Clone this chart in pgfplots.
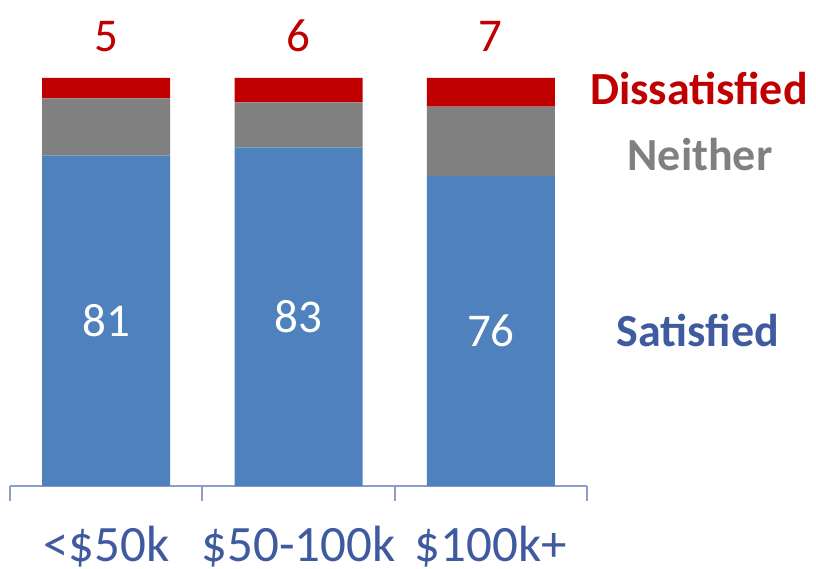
\documentclass[border=0pt]{standalone}
\usepackage{pgfplots}
\pgfplotsset{compat=1.18}
\usepackage{fontspec}
\setmainfont{Carlito}
\definecolor{sat}{HTML}{4F81BD}
\definecolor{nei}{HTML}{808080}
\definecolor{dis}{HTML}{C00000}
\definecolor{lab}{HTML}{3F5A9E}
\definecolor{axl}{HTML}{8D9DC5}
\begin{document}
\begin{tikzpicture}
\begin{axis}[
  scale only axis, width=577pt, height=408pt,
  xmin=-0.5, xmax=2.5, ymin=0, ymax=100,
  ybar stacked, bar width=128pt,
  axis x line=bottom, axis y line=none,
  x axis line style={axl, line width=2pt, -},
  xtick={0,1,2}, xticklabels={<\$50k,\$50-100k,\$100k+},
  major tick length=0pt, major x tick style={draw=none},
  minor xtick={-0.5,0.5,1.5,2.5}, minor tick length=15pt, tick align=outside,
  minor x tick style={axl, line width=2pt},
  xticklabel style={font=\fontsize{51}{54}\selectfont, text=lab, yshift=-37pt},
  /pgf/number format/assume math mode=true,
  clip=false,
]
\addplot[fill=sat, draw=none] coordinates {(0,81) (1,83) (2,76)};
\addplot[fill=nei, draw=none] coordinates {(0,14) (1,11) (2,17)};
\addplot[fill=dis, draw=none] coordinates {(0,5) (1,6) (2,7)};
\coordinate (s0) at (axis cs:0,40.5);
\coordinate (s1) at (axis cs:1,41.5);
\coordinate (s2) at (axis cs:2,38);
\coordinate (d0) at (axis cs:0,106.4);
\coordinate (d1) at (axis cs:1,106.4);
\coordinate (d2) at (axis cs:2,106.4);
\end{axis}
\node[text=white, font=\fontsize{47}{50}\selectfont] at (s0) {81};
\node[text=white, font=\fontsize{47}{50}\selectfont] at (s1) {83};
\node[text=white, font=\fontsize{47}{50}\selectfont] at (s2) {76};
\node[text=dis, font=\fontsize{47}{50}\selectfont, anchor=base] at (d0) {5};
\node[text=dis, font=\fontsize{47}{50}\selectfont, anchor=base] at (d1) {6};
\node[text=dis, font=\fontsize{47}{50}\selectfont, anchor=base] at (d2) {7};
\node[text=dis, font=\fontsize{46}{50}\selectfont\bfseries] at (689pt,398pt) {Dissatisfied};
\node[text=nei, font=\fontsize{46}{50}\selectfont\bfseries] at (690pt,331pt) {Neither};
\node[text=lab, font=\fontsize{46}{50}\selectfont\bfseries] at (688pt,156pt) {Satisfied};
\pgfresetboundingbox
\path[use as bounding box] (-10pt,-82pt) rectangle (806pt,486pt);
\end{tikzpicture}
\end{document}
